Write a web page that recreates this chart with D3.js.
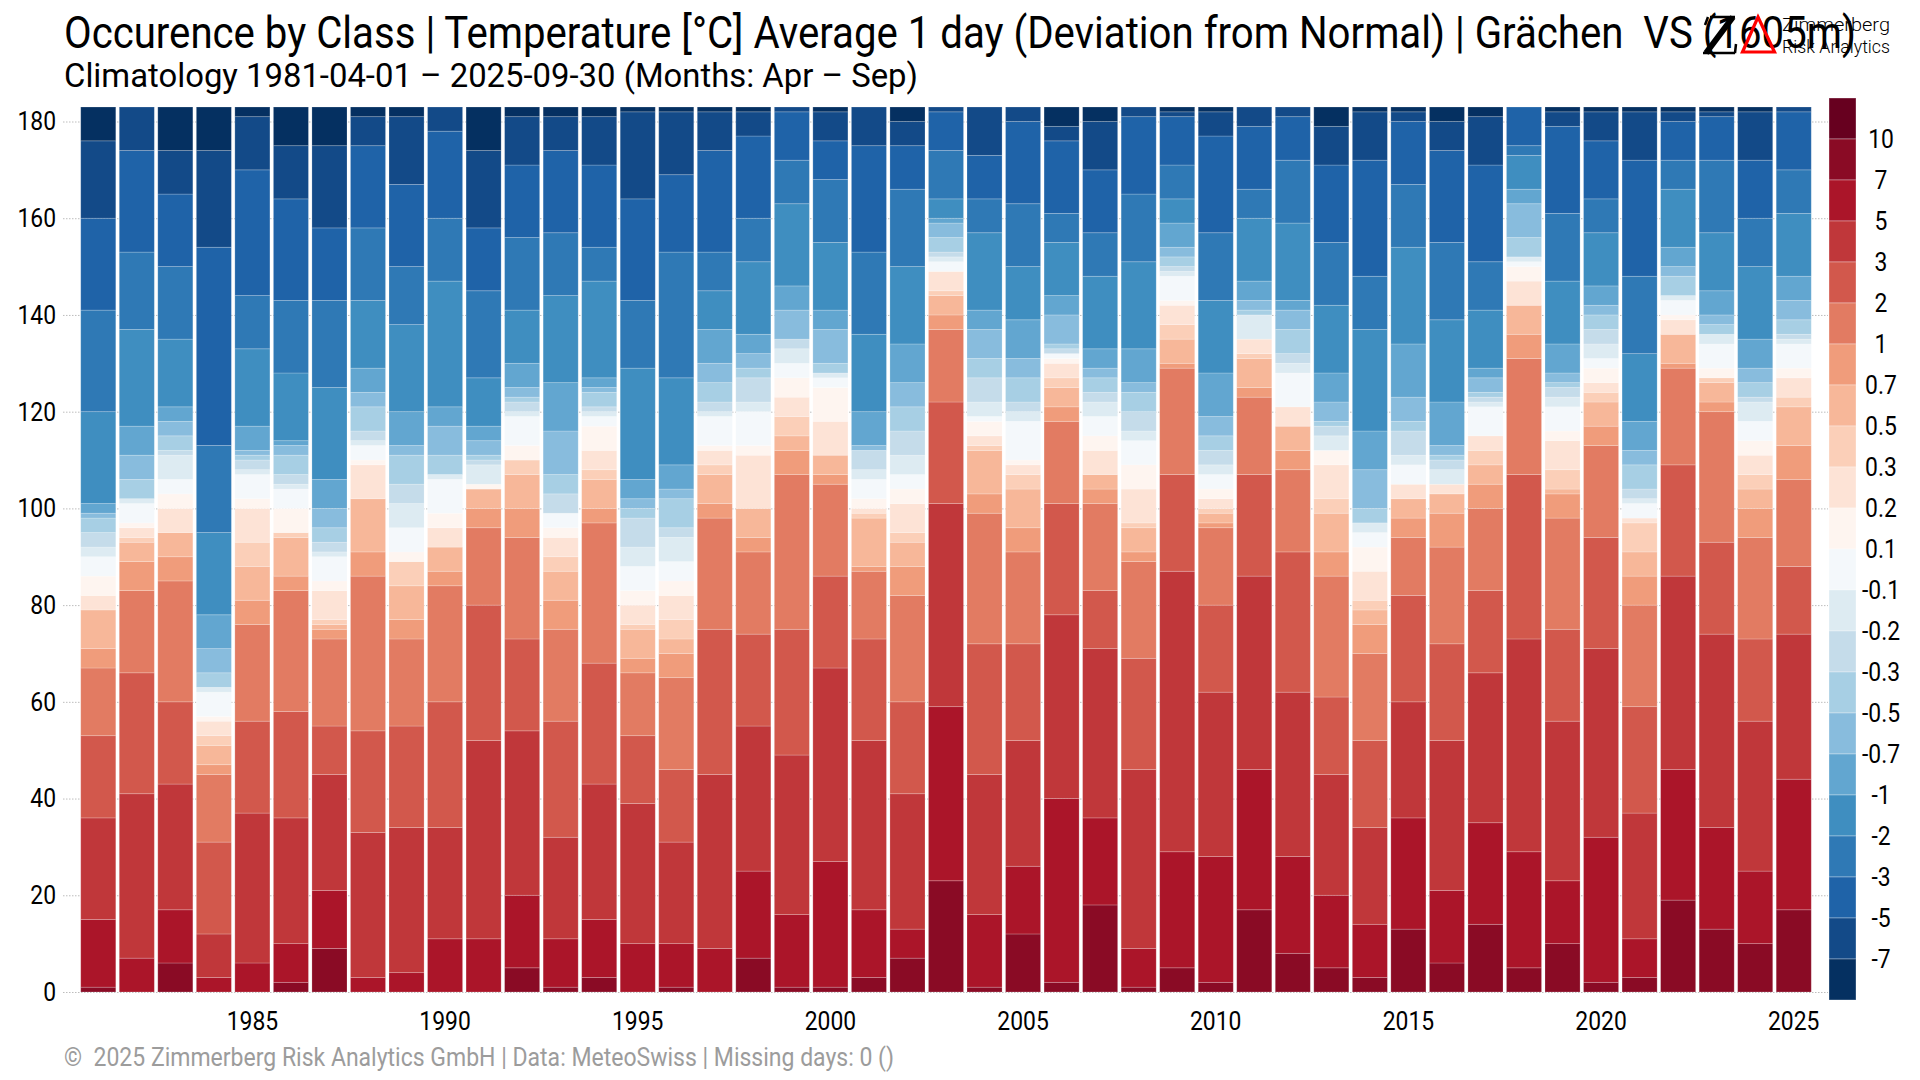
<!DOCTYPE html>
<html>
<head>
<meta charset="utf-8">
<script src="https://cdn.jsdelivr.net/npm/d3@7"></script>
<style>
  html, body { margin: 0; padding: 0; background: #fff; }
  svg { display: block; }
  text { font-family: Roboto, sans-serif; fill: #000; white-space: pre; }
</style>
</head>
<body>
<svg id="chart" width="1920" height="1080"></svg>
<script>
// ===== data =====
const years = [1981,1982,1983,1984,1985,1986,1987,1988,1989,1990,1991,1992,1993,1994,1995,
  1996,1997,1998,1999,2000,2001,2002,2003,2004,2005,2006,2007,2008,2009,2010,
  2011,2012,2013,2014,2015,2016,2017,2018,2019,2020,2021,2022,2023,2024,2025];

// classes bottom to top, one label per class upper/lower edge of the legend
const classKeys = ["7to10","5to7","3to5","2to3","1to2","07to1","05to07","03to05","02to03","01to02",
  "m01to01","m02tom01","m03tom02","m05tom03","m07tom05","m1tom07","m2tom1","m3tom2","m5tom3","m7tom5","ltm7"];

// days per class, one row per year, same order as classKeys
const dayCounts = [
  [1,14,21,17,14,4,8,0,3,4,4,2,3,3,1,2,19,21,19,16,7],
  [0,7,34,25,17,6,4,1,2,1,4,1,0,4,5,6,20,16,21,9,0],
  [6,11,26,17,25,5,5,0,5,3,3,5,1,3,3,3,14,15,15,9,9],
  [0,3,9,19,14,2,4,2,3,1,5,1,0,3,5,7,17,18,41,20,9],
  [0,6,31,19,20,5,7,5,7,2,5,1,2,1,1,5,16,11,26,11,2],
  [2,8,26,22,25,3,8,1,0,5,4,1,2,4,2,1,14,15,21,11,8],
  [9,12,24,10,18,2,1,1,6,2,5,1,2,3,4,6,19,18,15,17,8],
  [0,3,30,21,32,5,11,0,7,1,3,1,2,5,3,5,14,15,17,6,2],
  [0,4,30,21,18,4,7,5,0,2,5,5,4,6,2,7,18,12,17,14,2],
  [0,11,23,26,24,3,5,0,4,3,7,1,0,4,6,4,26,13,18,5,0],
  [0,11,41,28,16,4,4,0,0,1,0,4,1,1,3,3,10,18,13,16,9],
  [5,15,34,19,21,6,7,3,0,3,6,1,2,1,2,5,11,15,15,10,2],
  [1,10,21,24,19,6,6,3,4,2,3,0,4,4,9,10,18,13,17,7,2],
  [3,12,28,25,29,3,6,2,4,5,2,1,1,3,1,2,20,7,17,10,2],
  [0,10,29,14,13,3,6,1,4,3,5,4,6,2,2,4,23,14,21,18,1],
  [1,9,21,15,19,5,3,4,5,3,4,5,2,6,2,5,18,26,16,13,1],
  [0,9,36,30,23,3,6,2,3,1,6,1,2,4,4,7,8,8,21,8,1],
  [7,18,30,19,17,3,6,0,11,2,7,2,5,2,3,4,15,9,17,5,1],
  [1,15,33,26,32,5,3,4,4,4,3,3,2,0,6,5,17,9,10,1,0],
  [1,26,40,19,19,2,4,0,7,7,2,1,0,2,7,4,14,13,8,6,1],
  [3,14,35,21,14,1,10,1,1,2,4,2,4,0,1,7,16,17,22,8,0],
  [7,6,28,19,22,6,5,2,6,3,3,4,5,5,5,8,16,16,9,5,3],
  [23,36,42,21,15,3,4,1,4,0,2,1,1,3,3,1,4,10,8,1,0],
  [1,15,29,27,27,4,9,1,2,3,1,3,5,4,6,4,16,7,9,10,0],
  [12,14,26,20,19,5,8,3,2,1,8,2,2,5,4,8,11,13,17,3,0],
  [2,38,38,23,17,3,4,2,3,1,1,0,1,1,6,4,11,6,15,3,4],
  [18,18,35,12,18,3,3,0,5,3,4,3,2,3,2,4,15,9,13,10,3],
  [1,8,37,23,20,2,5,1,7,5,5,2,4,4,2,7,18,14,16,2,0],
  [5,24,58,20,22,1,5,3,4,1,5,1,1,2,2,5,5,7,10,1,1],
  [2,26,34,18,16,1,2,1,2,2,3,2,3,3,4,9,15,14,20,5,1],
  [17,29,40,21,16,2,6,1,3,0,0,5,0,1,2,4,13,6,13,4,0],
  [8,20,34,29,17,4,5,0,4,0,7,2,2,5,4,2,16,13,9,2,0],
  [5,15,25,16,25,5,8,3,7,3,0,3,2,1,4,6,14,13,16,8,4],
  [3,11,20,18,18,6,3,2,6,5,3,2,0,3,8,8,21,11,24,10,1],
  [13,23,24,22,12,4,4,0,3,0,4,2,5,2,5,11,20,13,13,2,1],
  [6,15,31,20,20,7,4,0,2,0,0,3,2,1,2,9,17,16,19,6,3],
  [14,21,31,17,17,5,4,3,3,0,6,1,1,1,3,2,12,10,20,10,2],
  [5,24,44,34,24,5,6,0,5,3,1,1,0,4,7,3,7,2,8,0,0],
  [10,13,33,19,23,5,1,4,6,2,5,2,2,1,2,6,13,14,18,3,1],
  [2,30,39,23,19,4,5,2,2,3,2,3,3,3,2,4,11,7,12,6,1],
  [3,8,26,22,21,6,5,6,1,0,3,1,2,5,3,6,14,16,24,10,1],
  [19,27,40,23,20,1,6,0,3,1,3,1,0,4,2,4,12,6,8,2,1],
  [13,21,40,19,27,2,4,1,0,2,5,2,0,2,2,5,12,15,9,1,1],
  [10,15,31,17,21,6,4,3,4,3,4,4,1,3,3,6,15,10,12,10,1],
  [17,27,30,14,18,7,8,2,4,2,5,1,1,3,4,5,13,9,12,1,0]
];

const yTicks = [0,20,40,60,80,100,120,140,160,180];
const xTicks = [1985,1990,1995,2000,2005,2010,2015,2020,2025];

// legend, top to bottom
const legendLabels = ["10","7","5","3","2","1","0.7","0.5","0.3","0.2","0.1","-0.1","-0.2","-0.3","-0.5","-0.7","-1","-2","-3","-5","-7"];
const legendColors = ["#67001f","#8a0b25","#ab1529","#c0373a","#d2584c","#e27b62","#f09c7b","#f7b799","#fbcfb8","#fde3d6","#fef5f0",
  "#f4f8fb","#ddebf2","#c5dcea","#a7cfe4","#88bcdd","#62a6d0","#3f8ec0","#2f79b5","#1f63a8","#134a88","#053061"];

const titleText = "Occurence by Class | Temperature [°C] Average 1 day (Deviation from Normal) | Grächen  VS (1605m)";
const subtitleText = "Climatology 1981-04-01 – 2025-09-30 (Months: Apr – Sep)";
const captionText = "©  2025 Zimmerberg Risk Analytics GmbH | Data: MeteoSwiss | Missing days: 0 ()";

// ===== layout =====
const svg = d3.select("#chart");
const plot = { left: 79, right: 1813, top: 107, bottom: 992, gridLeft: 63, gridRight: 1828 };

const x = d3.scaleBand().domain(years).range([plot.left, plot.right]).paddingInner(0.09).paddingOuter(0.045);
const y = d3.scaleLinear().domain([0, 183]).range([plot.bottom, plot.top]);

// class colors run bottom-up in the stack, legend runs top-down
const color = d3.scaleOrdinal().domain(classKeys).range(legendColors.slice(1, 22));

const rows = years.map((yr, i) => {
  const row = { year: yr };
  classKeys.forEach((k, j) => { row[k] = dayCounts[i][j]; });
  return row;
});
const series = d3.stack().keys(classKeys)(rows);

// text squeezed to the narrow look of the original
function squeezed(sel, width) {
  sel.attr("textLength", width).attr("lengthAdjust", "spacingAndGlyphs");
}
function narrow(sel) {
  sel.each(function () {
    squeezed(d3.select(this), this.getComputedTextLength() * 0.88);
  });
}

// ===== grid and axes =====
const yAxis = svg.append("g")
  .attr("transform", `translate(${plot.gridLeft},0)`)
  .call(d3.axisLeft(y).tickValues(yTicks).tickSize(plot.gridLeft - plot.gridRight).tickPadding(7));
yAxis.select(".domain").remove();
yAxis.selectAll(".tick line").attr("stroke", "#bdbdbd").attr("stroke-dasharray", "1.5 1.5");
yAxis.selectAll(".tick text").attr("font-size", 26).attr("fill", "#000").call(narrow);

const xAxis = svg.append("g")
  .attr("transform", `translate(0,${plot.bottom + 15})`)
  .call(d3.axisBottom(x).tickValues(xTicks).tickSize(0).tickPadding(5));
xAxis.select(".domain").remove();
xAxis.selectAll(".tick text").attr("font-size", 26).attr("fill", "#000").call(narrow);

// ===== bars =====
svg.append("g").selectAll("g")
  .data(series)
  .join("g")
  .attr("fill", d => color(d.key))
  .selectAll("rect")
  .data(d => d.filter(s => s[1] > s[0]))
  .join("rect")
  .attr("x", d => x(d.data.year))
  .attr("width", x.bandwidth())
  .attr("y", d => y(d[1]))
  .attr("height", d => y(d[0]) - y(d[1]))
  .attr("stroke", "#fff")
  .attr("stroke-opacity", 0.25)
  .attr("stroke-width", 0.8);

// ===== legend =====
const legendY = d3.scaleBand().domain(legendColors).range([98, 1000]);
const legend = svg.append("g");
legend.selectAll("rect")
  .data(legendColors)
  .join("rect")
  .attr("x", 1829)
  .attr("width", 27)
  .attr("y", d => legendY(d))
  .attr("height", legendY.bandwidth())
  .attr("fill", d => d)
  .attr("stroke", "#fff")
  .attr("stroke-opacity", 0.4)
  .attr("stroke-width", 0.8);
legend.selectAll("text")
  .data(legendLabels)
  .join("text")
  .attr("x", 1881)
  .attr("y", (d, i) => legendY(legendColors[i + 1]))
  .attr("dy", "0.36em")
  .attr("text-anchor", "middle")
  .attr("font-size", 26)
  .text(d => d)
  .call(narrow);

// ===== titles =====
svg.append("text").attr("x", 64).attr("y", 48).attr("font-size", 44).text(titleText).call(squeezed, 1792);
svg.append("text").attr("x", 64).attr("y", 87).attr("font-size", 34).text(subtitleText).call(squeezed, 854);
svg.append("text").attr("x", 64).attr("y", 1066).attr("font-size", 26).style("fill", "#9c9c9c").text(captionText).call(squeezed, 830);

// ===== logo =====
const logo = svg.append("g");
logo.append("path")
  .attr("d", "M1710 17 L1735 17 M1703 53 L1735 53 M1708 17 L1705 25 M1735 53 L1736 44")
  .attr("fill", "none").attr("stroke", "#000").attr("stroke-width", 2.5);
logo.append("path")
  .attr("d", "M1733 17 L1706 53")
  .attr("fill", "none").attr("stroke", "#000").attr("stroke-width", 6);
logo.append("path")
  .attr("d", "M1758 17 L1774.5 52 L1742.5 52 Z")
  .attr("fill", "none").attr("stroke", "#f00").attr("stroke-width", 3.2);
logo.append("text").attr("x", 1782).attr("y", 31).attr("font-size", 19).attr("font-weight", 300).text("Zimmerberg").call(squeezed, 108);
logo.append("text").attr("x", 1782).attr("y", 53).attr("font-size", 19).attr("font-weight", 300).text("Risk Analytics").call(squeezed, 108);
</script>
</body>
</html>
